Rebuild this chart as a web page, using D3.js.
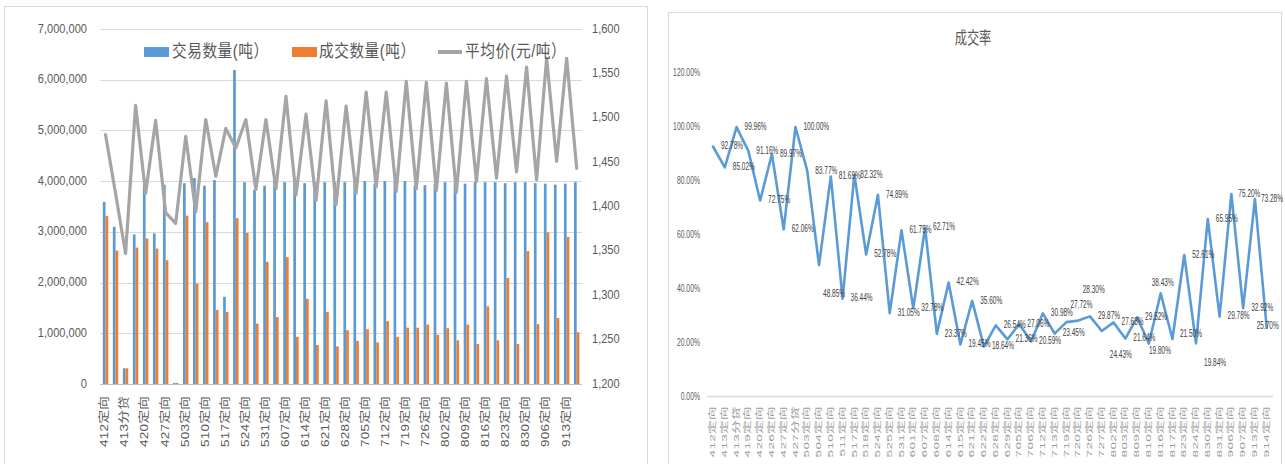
<!DOCTYPE html>
<html><head><meta charset="utf-8">
<script src="https://cdn.jsdelivr.net/npm/d3@7"></script>
<style>body{margin:0;background:#fff}svg{display:block}</style>
</head><body>
<svg id="c" width="1285" height="464"></svg>
<script>
// ---------- data ----------
const categories = ["412定向","413定向","413分贷","419定向","420定向","426定向","427定向","427分贷","503定向","504定向","510定向","511定向","517定向","518定向","524定向","525定向","531定向","601定向","607定向","608定向","614定向","615定向","621定向","622定向","628定向","629定向","705定向","706定向","712定向","713定向","719定向","720定向","726定向","727定向","802定向","803定向","809定向","810定向","816定向","817定向","823定向","824定向","830定向","831定向","906定向","907定向","913定向","914定向"];
// 交易数量(吨)
const tradeQty = [3590000,3100000,310000,2950000,3940000,2970000,3930000,20000,3960000,4060000,3910000,4020000,1720000,6190000,3980000,3830000,3910000,4040000,3980000,3980000,3960000,3980000,3980000,3980000,3980000,3980000,4000000,3950000,4000000,3980000,4000000,3920000,3920000,3950000,3980000,3980000,3950000,3980000,3980000,3980000,3960000,3980000,3980000,3960000,3950000,3930000,3950000,3980000];
// 成交数量(吨)
const dealQty = [3310000,2630000,310000,2690000,2870000,2670000,2440000,20000,3320000,1980000,3190000,1460000,1420000,3270000,2980000,1190000,2410000,1320000,2500000,930000,1680000,770000,1420000,740000,1060000,850000,1080000,820000,1240000,930000,1110000,1110000,1170000,970000,1100000,860000,1170000,790000,1530000,860000,2090000,790000,2620000,1180000,2990000,1300000,2900000,1020000];
// 平均价(元/吨)
const avgPrice = [1481,1415,1347,1514,1415,1497,1393,1381,1479,1394,1498,1434,1488,1466,1498,1419,1498,1420,1524,1413,1504,1407,1519,1402,1513,1415,1529,1422,1529,1417,1541,1420,1540,1418,1539,1416,1541,1428,1544,1432,1547,1439,1557,1430,1567,1451,1567,1443];
// 成交率 (%)
const dealRate = [92.78,85.02,99.96,91.16,72.75,89.97,62.06,100.00,83.77,48.85,81.69,36.44,82.32,52.78,74.89,31.05,61.75,32.78,62.71,23.37,42.42,19.45,35.60,18.64,26.54,21.36,27.06,20.59,30.98,23.45,27.72,28.30,29.87,24.43,27.63,21.64,29.52,19.80,38.43,21.50,52.61,19.84,65.95,29.78,75.20,32.92,73.28,25.70];
const qtyTicks = [0,1000000,2000000,3000000,4000000,5000000,6000000,7000000];
const priceTicks = [1200,1250,1300,1350,1400,1450,1500,1550,1600];
const rateTicks = [0,20,40,60,80,100,120];
const seriesNames = ["交易数量(吨）","成交数量(吨）","平均价(元/吨）"];
const rateTitle = "成交率";
// label placement nudges (index -> [dx, dy]) for data labels that were moved in the original
const rateLabelNudge = {9:[4,29],12:[6,0],30:[4,-17],31:[4.5,-30.5],33:[8,24],37:[0,8],38:[-9,-10.5],39:[7.5,-5],41:[8,20],44:[7,0],46:[6,0],47:[-10,-1]};

// ---------- drawing ----------
const svg = d3.select("#c");
const FONT = "'Liberation Sans','Noto Sans CJK SC',sans-serif";
const BLUE = "#5B9BD5", ORANGE = "#ED7D31", GRAY = "#A5A5A5";

function text(g, x, y, s, o) {
  o = o || {};
  const sx = o.sx || 1;
  const t = g.append("text")
    .attr("transform", `translate(${x},${y}) scale(${sx},1)` + (o.rot ? ` rotate(${o.rot})` : ""))
    .attr("font-family", o.family || FONT)
    .attr("font-size", o.size || 12)
    .attr("fill", o.fill || "#595959")
    .attr("text-anchor", o.anchor || "start")
    .attr("dominant-baseline", o.base || "middle")
    .text(s);
  if (o.ls) t.attr("letter-spacing", o.ls);
  return t;
}

// ===== Left chart =====
const L = svg.append("g");
L.append("rect").attr("x",4.5).attr("y",6.5).attr("width",643).attr("height",470)
  .attr("fill","#fff").attr("stroke","#d9d9d9");

const x0 = d3.scaleBand().domain(categories).range([100.5, 581.7]).padding(0);
const yQ = d3.scaleLinear().domain([0, 7000000]).range([384, 29]);
const yP = d3.scaleLinear().domain([1200, 1600]).range([384, 29]);
const bw = x0.bandwidth() * 0.27;
const cx = c => x0(c) + x0.bandwidth()/2;

// gridlines
L.selectAll("line.grid").data(qtyTicks).join("line")
  .attr("x1",100).attr("x2",582)
  .attr("y1",d=>Math.round(yQ(d))+0.5).attr("y2",d=>Math.round(yQ(d))+0.5)
  .attr("stroke",d=>d===0?"#bfbfbf":"#d9d9d9").attr("stroke-width",1);

// left axis labels
qtyTicks.forEach(t => text(L, 87, yQ(t), d3.format(",")(t), {anchor:"end", size:13.5, sx:0.82}));
// right axis labels
priceTicks.forEach(t => text(L, 592, yP(t), d3.format(",")(t), {anchor:"start", size:13.5, sx:0.82}));

// bars
L.selectAll("rect.trade").data(categories).join("rect")
  .attr("x", (c)=>cx(c) - bw).attr("width", bw)
  .attr("y", (c,i)=>yQ(tradeQty[i])).attr("height",(c,i)=>yQ(0)-yQ(tradeQty[i]))
  .attr("fill", BLUE);
L.selectAll("rect.deal").data(categories).join("rect")
  .attr("x", (c)=>cx(c)).attr("width", bw)
  .attr("y", (c,i)=>yQ(dealQty[i])).attr("height",(c,i)=>yQ(0)-yQ(dealQty[i]))
  .attr("fill", ORANGE);

// price line
L.append("path").datum(avgPrice)
  .attr("d", d3.line().x((d,i)=>cx(categories[i])).y(d=>yP(d)))
  .attr("fill","none").attr("stroke",GRAY).attr("stroke-width",3.2)
  .attr("stroke-linejoin","round").attr("stroke-linecap","round");

// category labels (every other)
categories.forEach((c,i) => {
  if (i % 2 === 0) text(L, cx(c), 396, c, {anchor:"end", rot:-90, size:13.5, sx:0.8, fill:"#595959", ls:0.3});
});

// legend
L.append("rect").attr("x",144).attr("y",47).attr("width",25).attr("height",10).attr("fill",BLUE);
text(L, 172, 52, seriesNames[0], {size:17.5, sx:0.84, ls:0.6});
L.append("rect").attr("x",292).attr("y",47).attr("width",25).attr("height",10).attr("fill",ORANGE);
text(L, 319, 52, seriesNames[1], {size:17.5, sx:0.84, ls:0.6});
L.append("line").attr("x1",438).attr("x2",462).attr("y1",52).attr("y2",52).attr("stroke",GRAY).attr("stroke-width",4);
text(L, 465, 52, seriesNames[2], {size:17.5, sx:0.84, ls:0.6});

// ===== Right chart =====
const R = svg.append("g");
R.append("rect").attr("x",668.5).attr("y",12.5).attr("width",613).attr("height",470)
  .attr("fill","#fff").attr("stroke","#d9d9d9");

const xR = d3.scalePoint().domain(categories).range([713, 1266.7]);
const yR = d3.scaleLinear().domain([0, 120]).range([397, 73]);

text(R, 973, 40, rateTitle, {anchor:"middle", size:17, sx:0.72});

rateTicks.forEach(t => text(R, 700, yR(t), d3.format(".2f")(t)+"%", {anchor:"end", size:10.5, sx:0.65, fill:"#595959"}));

R.append("line").attr("x1",707).attr("x2",1273).attr("y1",396.5).attr("y2",396.5)
  .attr("stroke","#d9d9d9").attr("stroke-width",1.5);

R.append("path").datum(dealRate)
  .attr("d", d3.line().x((d,i)=>xR(categories[i])).y(d=>yR(d)))
  .attr("fill","none").attr("stroke",BLUE).attr("stroke-width",2.6)
  .attr("stroke-linejoin","round").attr("stroke-linecap","round");

dealRate.forEach((v,i) => {
  const n = rateLabelNudge[i] || [8,0];
  text(R, xR(categories[i]) + n[0], yR(v) + n[1], d3.format(".2f")(v)+"%", {size:10.5, sx:0.62, fill:"#404040"});
});

categories.forEach(c => text(R, xR(c), 406, c, {anchor:"end", rot:-90, size:13.5, sx:0.6, fill:"#9a9a9a", ls:0.4}));
</script>
</body></html>
